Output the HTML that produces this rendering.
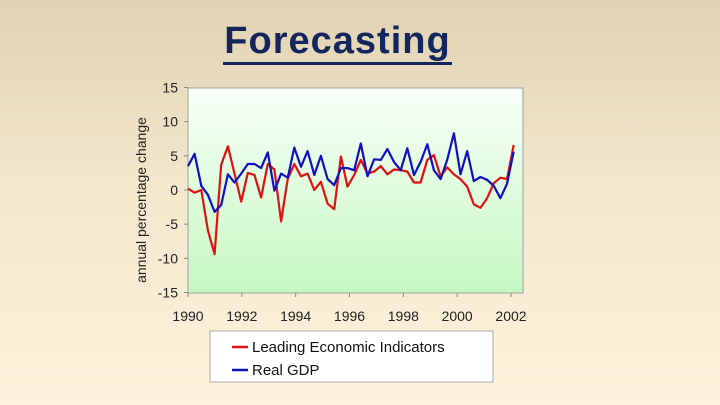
<!DOCTYPE html>
<html><head><meta charset="utf-8"><style>
html,body{margin:0;padding:0}
body{width:720px;height:405px;overflow:hidden;background:linear-gradient(#e0d2b2 0%,#f3e7cc 45%,#fdf3dc 100%);font-family:"Liberation Sans",Arial,sans-serif;position:relative}
#title{position:absolute;left:223px;width:229px;text-align:center;top:20px;font-size:38px;line-height:42px;font-weight:bold;color:#13265e;letter-spacing:1px;border-bottom:3px solid #13265e;padding-bottom:0}
svg{position:absolute;left:0;top:0}
</style></head><body>
<div id="title">Forecasting</div>
<svg id="chart" width="720" height="405">
<defs><linearGradient id="pg" x1="0" y1="0" x2="0" y2="1"><stop offset="0" stop-color="#f8fff8"/><stop offset="1" stop-color="#c6f8c2"/></linearGradient></defs>
<rect x="188" y="88" width="335" height="205" fill="url(#pg)" stroke="#a0a0a0"/>
<g id="axes"></g><g id="series"></g>
<text transform="translate(146,200) rotate(-90)" text-anchor="middle" font-size="14" fill="#222">annual percentage change</text>
<rect x="210" y="331" width="283" height="51" fill="#fff" stroke="#a8a8a8"/>
<g><line x1="232" y1="347" x2="248" y2="347" stroke="#e01010" stroke-width="2.5"/><text x="252" y="352" font-size="15" fill="#111">Leading Economic Indicators</text></g>
<g><line x1="232" y1="370" x2="248" y2="370" stroke="#1010c0" stroke-width="2.5"/><text x="252" y="375" font-size="15" fill="#111">Real GDP</text></g>
</svg>
<script>
const yTicks=[15,10,5,0,-5,-10,-15];
const xTicks=[1990,1992,1994,1996,1998,2000,2002];
const lei=[0.2,-0.4,0,-5.9,-9.4,3.7,6.4,2.4,-1.7,2.5,2.2,-1.1,3.8,3.0,-4.6,1.6,3.8,2.0,2.4,0,1.2,-2.0,-2.8,4.9,0.5,2.2,4.4,2.4,2.7,3.5,2.3,3.0,2.9,2.7,1.1,1.1,4.4,5.1,2.0,3.3,2.3,1.6,0.5,-2.1,-2.6,-1.2,1.0,1.8,1.6,6.6];
const gdp=[3.5,5.3,0.6,-0.7,-3.2,-2.2,2.3,1.1,2.4,3.8,3.8,3.2,5.5,-0.1,2.4,1.8,6.2,3.4,5.7,2.2,5.0,1.6,0.7,3.2,3.2,2.9,6.8,2.0,4.5,4.4,6.0,4.1,2.9,6.1,2.2,4.1,6.7,2.9,1.6,4.4,8.3,2.3,5.7,1.3,1.9,1.5,0.6,-1.2,0.9,5.6];
const startYear=1990, span=12.1;
const NS='http://www.w3.org/2000/svg';
function xs(yr){return 188+(yr-1990)*(511-188)/12;}
function ys(v){return 190-v*(205/30);}
function yrOf(i,n){return startYear+i*span/(n-1);}
const axes=document.getElementById('axes');
yTicks.forEach(t=>{
 const l=document.createElementNS(NS,'line');l.setAttribute('x1',184);l.setAttribute('x2',188);l.setAttribute('y1',ys(t));l.setAttribute('y2',ys(t));l.setAttribute('stroke','#888');
 
 
 axes.appendChild(l);
 const tx=document.createElementNS(NS,'text');tx.setAttribute('x',178);tx.setAttribute('y',ys(t)+5);tx.setAttribute('text-anchor','end');tx.setAttribute('font-size','14');tx.setAttribute('fill','#222');tx.textContent=t;
 
 
 axes.appendChild(tx);
});
xTicks.forEach(t=>{
 const l=document.createElementNS(NS,'line');l.setAttribute('x1',xs(t));l.setAttribute('x2',xs(t));l.setAttribute('y1',293);l.setAttribute('y2',297);l.setAttribute('stroke','#888');
 
 
 axes.appendChild(l);
 const tx=document.createElementNS(NS,'text');tx.setAttribute('x',xs(t));tx.setAttribute('y',321);tx.setAttribute('text-anchor','middle');tx.setAttribute('font-size','14');tx.setAttribute('fill','#222');tx.textContent=t;
 
 
 axes.appendChild(tx);
});
const sg=document.getElementById('series');
function draw(arr,color,name){
 const p=document.createElementNS(NS,'polyline');
 p.setAttribute('points',arr.map((v,i)=>xs(yrOf(i,arr.length)).toFixed(1)+','+ys(v).toFixed(1)).join(' '));
 p.setAttribute('fill','none');p.setAttribute('stroke',color);p.setAttribute('stroke-width','2.2');p.setAttribute('stroke-linejoin','round');
 
 
 sg.appendChild(p);
}
draw(lei,'#e01010','lei-line');
draw(gdp,'#1010c0','gdp-line');
</script>
</body></html>
